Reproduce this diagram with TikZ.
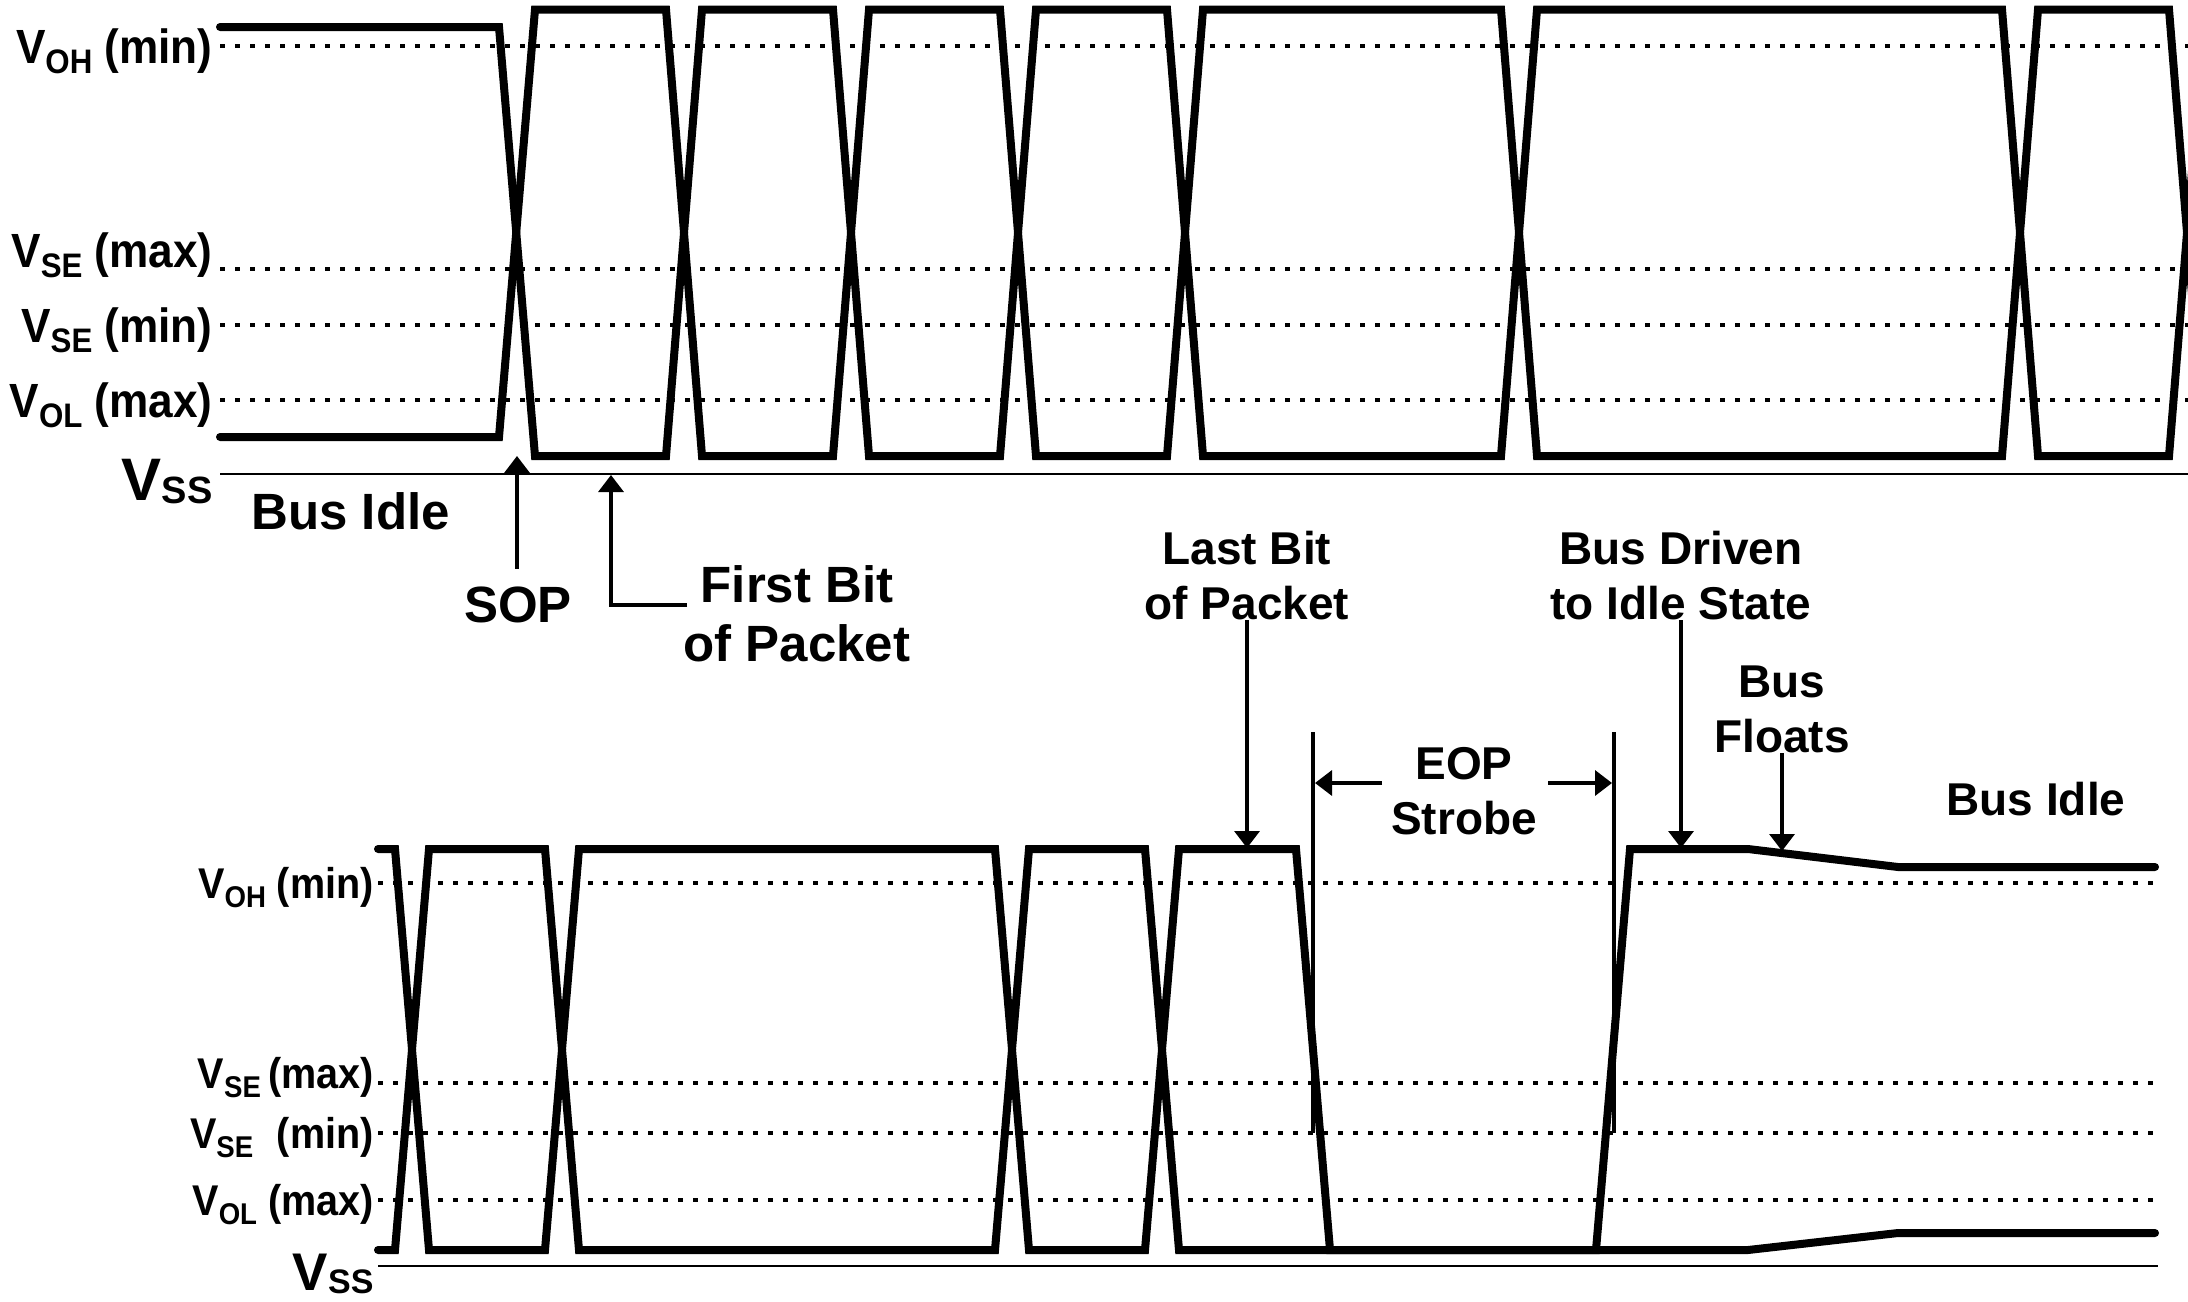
\documentclass[tikz,border=0pt]{standalone}
\usepackage{fontspec}
\setmainfont{Liberation Sans}
\newfontfamily\narrowsf{Liberation Sans}[FakeStretch=0.92]
\usetikzlibrary{arrows.meta}
\tikzset{
  >={Triangle[length=8.5pt,width=12.5pt]},
  every node/.style={inner sep=0pt,font=\bfseries},
  wave/.style={line width=4pt,line cap=round,line join=miter},
  lvlline/.style={line width=2.3pt,dash pattern=on 2.4pt off 5.1pt},
  ground/.style={line width=1.2pt},
  pointer/.style={->,line width=1.7pt},
  strobe/.style={line width=1.7pt},
  toplvl/.style={anchor=base east,font=\narrowsf\bfseries\fontsize{24}{28}\selectfont},
  botlvl/.style={anchor=base east,font=\narrowsf\bfseries\fontsize{21.5}{26}\selectfont},
  note/.style={align=center,font=\bfseries\fontsize{25.5}{29.5}\selectfont},
  smallnote/.style={align=center,font=\bfseries\fontsize{23}{27.5}\selectfont},
}
\newcommand{\tsub}[1]{\raisebox{-5pt}{\fontsize{17}{17}\selectfont #1}}
\newcommand{\bsub}[1]{\raisebox{-4.5pt}{\fontsize{15}{15}\selectfont #1}}

\begin{document}
\begin{tikzpicture}[x=0.5pt,y=-0.5pt]
\useasboundingbox (0,0) rectangle (2188,1301);

% --- top: bus idle, SOP and first bits
\node[toplvl] (tvoh) at (213,63) {V\tsub{OH} (min)};
\node[toplvl] (tvsemax) at (213,267) {V\tsub{SE} (max)};
\node[toplvl] (tvsemin) at (213,342) {V\tsub{SE} (min)};
\node[toplvl] (tvol) at (213,417) {V\tsub{OL} (max)};
\node[anchor=base east,font=\bfseries\fontsize{30}{30}\selectfont] (tvss) at (213,500)
  {V\raisebox{-1.5pt}{\fontsize{19}{19}\selectfont SS}};

\draw[lvlline] (220,46) -- (2188,46);
\draw[lvlline] (220,269) -- (2188,269);
\draw[lvlline] (220,325) -- (2188,325);
\draw[lvlline] (220,400) -- (2188,400);
\draw[ground] (220,474) -- (2188,474);

\draw[wave] (220,27) -- (499,27) -- (535,456) -- (666,456) -- (702,9.5) -- (833,9.5)
  -- (869,456) -- (1000,456) -- (1036,9.5) -- (1167,9.5) -- (1203,456) -- (1501,456)
  -- (1537,9.5) -- (2002,9.5) -- (2038,456) -- (2169,456) -- (2205,9.5);
\draw[wave] (220,437) -- (499,437) -- (535,9.5) -- (666,9.5) -- (702,456) -- (833,456)
  -- (869,9.5) -- (1000,9.5) -- (1036,456) -- (1167,456) -- (1203,9.5) -- (1501,9.5)
  -- (1537,456) -- (2002,456) -- (2038,9.5) -- (2169,9.5) -- (2205,456);

\node[note,anchor=base west] (tidle) at (251,529) {Bus Idle};
\node[note,anchor=base] (sop) at (518,622) {SOP};
\coordinate (sopmark) at (517,456);
\draw[pointer] ([yshift=8.5pt]sop.north -| sopmark) -- (sopmark);

\node[note,anchor=south] (first) at (797,662) {First Bit\\of Packet};
\coordinate (firstfoot) at (687,605);
\coordinate (firstmark) at (611,475);
\draw[pointer] (firstfoot) -| (firstmark);

% --- bottom: last bit, EOP and return to idle
\node[botlvl] (bvoh) at (374,898) {V\bsub{OH} (min)};
\node[botlvl] (bvsemax) at (374,1088) {V\bsub{SE}\,(max)};
\node[botlvl] (bvsemin) at (374,1148) {V\bsub{SE}\hspace{0.55em}(min)};
\node[botlvl] (bvol) at (374,1215) {V\bsub{OL} (max)};
\node[anchor=base east,font=\bfseries\fontsize{26.5}{26.5}\selectfont] (bvss) at (374,1290)
  {V\raisebox{-1.5pt}{\fontsize{17}{17}\selectfont SS}};

\draw[lvlline] (378,883) -- (2156,883);
\draw[lvlline] (378,1083) -- (2156,1083);
\draw[lvlline] (378,1133) -- (2156,1133);
\draw[lvlline] (378,1200) -- (2156,1200);
\draw[ground] (378,1266) -- (2158,1266);

\draw[wave] (378,849) -- (395,849) -- (429,1250) -- (545,1250) -- (579,849) -- (995,849)
  -- (1029,1250) -- (1145,1250) -- (1179,849) -- (1296,849) -- (1330,1250) -- (1596,1250)
  -- (1630,849) -- (1748,849) -- (1898,867) -- (2155,867);
\draw[wave] (378,1250) -- (395,1250) -- (429,849) -- (545,849) -- (579,1250) -- (995,1250)
  -- (1029,849) -- (1145,849) -- (1179,1250) -- (1748,1250) -- (1898,1233) -- (2155,1233);

\draw[strobe] (1313,732) -- (1313,1133);
\draw[strobe] (1614,732) -- (1614,1133);

\node[smallnote,anchor=south] (last) at (1247,620) {Last Bit\\of Packet};
\coordinate (lastmark) at (1247,848);
\draw[pointer] (last.south) -- (lastmark);

\node[smallnote,anchor=south] (eop) at (1464,835) {EOP\\Strobe};
\coordinate (eopleft) at (1315,783);
\coordinate (eopright) at (1612,783);
\draw[pointer] (1382,783) -- (eopleft);
\draw[pointer] (1548,783) -- (eopright);

\node[smallnote,anchor=south] (driven) at (1681,620) {Bus Driven\\to Idle State};
\coordinate (drivenmark) at (1681,848);
\draw[pointer] (driven.south) -- (drivenmark);

\node[smallnote,anchor=south] (floats) at (1782,753) {Bus\\Floats};
\coordinate (floatsmark) at (1782,851);
\draw[pointer] (floats.south) -- (floatsmark);

\node[smallnote,anchor=base] (bidle) at (2036,815) {Bus Idle};

\end{tikzpicture}
\end{document}
